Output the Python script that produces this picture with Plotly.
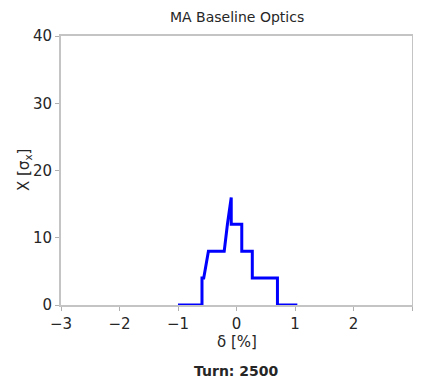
import plotly.graph_objects as go

# data
delta = [-1.0, -0.59, -0.59, -0.56, -0.48, -0.21, -0.155, -0.09, -0.09, 0.09, 0.09, 0.27, 0.27, 0.70, 0.70, 1.04]
x_sigma = [0, 0, 4, 4, 8, 8, 12, 16, 12, 12, 8, 8, 4, 4, 0, 0]

x_ticks = [-3, -2, -1, 0, 1, 2, 3]
x_tick_labels = ["\u22123", "\u22122", "\u22121", "0", "1", "2", "3"]
y_ticks = [0, 10, 20, 30, 40]

title = "MA Baseline Optics"
turn_label = "<b>Turn: 2500</b>"
x_label = "\u03b4 [%]"
y_label = "X [\u03c3<sub>x</sub>]"

font = "DejaVu Sans"
txt = "#262626"

# the page body has an 8px margin; visible figure width is 421 - 16
OFF = 8
W, H = 421 - 2 * OFF, 381 - OFF
L, R, T = 61 - OFF, 1, 36 - OFF
plot_h = 269
B = H - T - plot_h
plot_w = W - L - R


def py(pix):
    return (H - B - (pix - OFF)) / plot_h


def px(pix):
    return ((pix - OFF) - L) / plot_w


fig = go.Figure()
fig.add_trace(go.Scatter(x=delta, y=x_sigma, mode="lines",
                         line=dict(color="#0000ff", width=3),
                         showlegend=False))

axis_common = dict(showline=True, linecolor="#c4c4c4", linewidth=2, mirror=True,
                   showgrid=False, zeroline=False, ticks="outside", ticklen=4,
                   tickwidth=1, tickcolor="#b0b0b0", automargin=False,
                   tickfont=dict(family=font, size=15, color=txt))

fig.update_layout(
    width=W, height=H,
    margin=dict(l=L, r=R, t=T, b=B, autoexpand=False),
    paper_bgcolor="white", plot_bgcolor="white",
    xaxis=dict(range=[-3, 3], tickvals=x_ticks, ticktext=x_tick_labels, **axis_common),
    yaxis=dict(range=[0, 40], tickvals=y_ticks, **axis_common),
    annotations=[
        dict(text=title, x=0.5, y=py(17), xref="paper", yref="paper", showarrow=False,
             yanchor="middle", font=dict(family=font, size=14, color=txt)),
        dict(text=x_label, x=0.5, y=py(342), xref="paper", yref="paper", showarrow=False,
             yanchor="middle", font=dict(family=font, size=15, color=txt)),
        dict(text=y_label, x=px(24), y=py(170), xref="paper", yref="paper", showarrow=False,
             textangle=-90, xanchor="center", yanchor="middle",
             font=dict(family=font, size=15, color=txt)),
        dict(text=turn_label, x=0.5, y=py(371), xref="paper", yref="paper", showarrow=False,
             yanchor="middle", font=dict(family=font, size=14, color=txt)),
    ],
)

fig.write_html("out.html")
